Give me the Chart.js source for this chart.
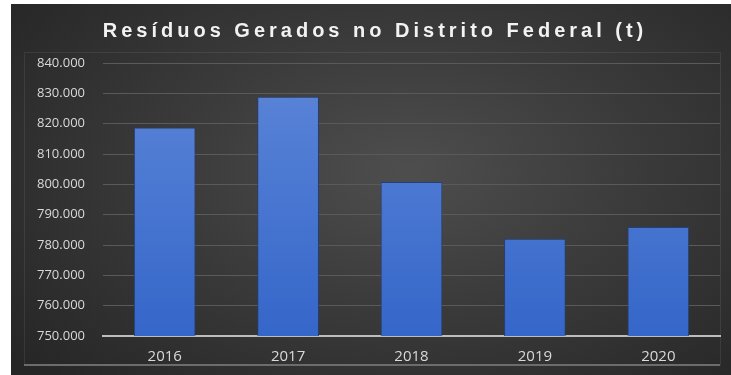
<!DOCTYPE html>
<html lang="pt-BR">
<head>
<meta charset="utf-8">
<title>Resíduos Gerados no Distrito Federal (t)</title>
<script src="https://cdn.jsdelivr.net/npm/chart.js@4"></script>
<style>
    html, body { margin: 0; padding: 0; background: #fff; overflow: hidden; }
    .frame {
        position: absolute; left: 11px; top: 4px; width: 720px; height: 371px; overflow: hidden;
        background: radial-gradient(ellipse 70% 80% at 55% 45%, #4e4e4e 0%, #3b3b3b 45%, #262626 100%);
    }
</style>
</head>
<body>
<div class="frame"><canvas id="residuosChart" width="720" height="374"></canvas></div>
<script>
// Data
const chartTitle = 'Resíduos Gerados no Distrito Federal (t)';
const years = ['2016', '2017', '2018', '2019', '2020'];
const residuos = [818700, 828900, 800800, 782100, 785900];
const yMin = 750000;
const yMax = 840000;
const yStep = 10000;

// 840000 -> "840.000"
function formatThousands(v) {
    return String(v).replace(/\B(?=(\d{3})+(?!\d))/g, '.');
}

// Excel-like plot frame + spaced title
const decorPlugin = {
    id: 'decor',
    beforeDraw(chart) {
        const ctx = chart.ctx;
        const a = chart.chartArea;
        ctx.save();
        ctx.strokeStyle = 'rgba(255,255,255,0.08)';
        ctx.lineWidth = 1;
        ctx.strokeRect(13.5, a.top - 10.5, a.right - 13, 361 - (a.top - 10.5));
        ctx.strokeStyle = '#6c6c6c';
        ctx.lineWidth = 2;
        ctx.beginPath();
        ctx.moveTo(13, 361);
        ctx.lineTo(a.right, 361);
        ctx.stroke();
        ctx.restore();
    },
    afterDraw(chart) {
        const ctx = chart.ctx;
        ctx.save();
        ctx.letterSpacing = '4px';
        ctx.font = 'bold 20px "Liberation Sans", Arial, sans-serif';
        ctx.fillStyle = '#f2f2f2';
        ctx.textAlign = 'center';
        ctx.textBaseline = 'alphabetic';
        ctx.fillText(chartTitle, chart.width / 2 + 4, 33);
        ctx.restore();
    }
};

const ctx = document.getElementById('residuosChart').getContext('2d');
new Chart(ctx, {
    type: 'bar',
    data: {
        labels: years,
        datasets: [{
            label: 'Resíduos (t)',
            data: residuos,
            backgroundColor: function(c) {
                const area = c.chart.chartArea;
                if (!area) return '#4a76d0';
                const g = c.chart.ctx.createLinearGradient(0, area.top, 0, area.bottom);
                g.addColorStop(0, '#5c86d8');
                g.addColorStop(1, '#3566c9');
                return g;
            },
            borderColor: '#263f78',
            borderWidth: 1,
            borderSkipped: 'bottom',
            barPercentage: 0.5,
            categoryPercentage: 1
        }]
    },
    options: {
        responsive: false,
        animation: false,
        layout: { padding: { top: 59, left: 8, right: 11, bottom: 0 } },
        plugins: {
            legend: { display: false },
            title: { display: false },
            tooltip: { enabled: false }
        },
        scales: {
            x: {
                grid: { display: true, color: 'transparent', drawTicks: false },
                border: { display: true, color: '#bdbdbd', width: 2 },
                ticks: {
                    color: '#d9d9d9',
                    padding: 12,
                    font: { family: '"Open Sans", sans-serif', size: 15 }
                }
            },
            y: {
                min: yMin,
                max: yMax,
                grid: { color: '#5a5a5a', lineWidth: 1, drawTicks: false },
                border: { display: false },
                ticks: {
                    stepSize: yStep,
                    color: '#d9d9d9',
                    padding: 18,
                    font: { family: '"Open Sans", sans-serif', size: 13 },
                    callback: function(value) { return formatThousands(value); }
                }
            }
        }
    },
    plugins: [decorPlugin]
});
</script>
</body>
</html>
